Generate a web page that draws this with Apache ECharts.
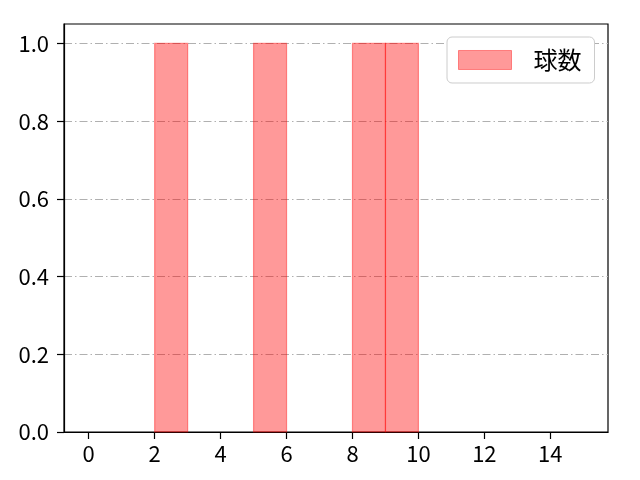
<!DOCTYPE html>
<html>
<head>
<meta charset="utf-8">
<script src="https://cdn.jsdelivr.net/npm/echarts@6/dist/echarts.min.js"></script>
<style>html,body{margin:0;padding:0;background:#fff}#c{width:640px;height:480px}</style>
</head>
<body>
<div id="c"></div>
<script>
const seriesName = '球数';
const binStarts = [2, 5, 8, 9];
const binEnds = [3, 6, 9, 10];
const counts = [1, 1, 1, 1];
const xTicks = [0, 2, 4, 6, 8, 10, 12, 14];
const yTicks = [0, 0.2, 0.4, 0.6, 0.8, 1.0];

const FONT = '"Noto Sans CJK JP", "Noto Sans", sans-serif';
const fill = 'rgba(255,0,0,0.4)';
const edge = 'rgba(255,0,0,0.4)';

const data = binStarts.map((s, i) => [s, binEnds[i], counts[i]]);

const chart = echarts.init(document.getElementById('c'), null, {renderer: 'canvas'});
chart.setOption({
  animation: false,
  backgroundColor: '#fff',
  grid: {left: 64, right: 32, top: 24, bottom: 48, show: true, borderColor: '#000', borderWidth: 1.2, backgroundColor: 'transparent'},
  legend: {
    show: true,
    left: 447, top: 37,
    padding: [11, 13, 11, 11],
    itemWidth: 53, itemHeight: 19, itemGap: 10,
    backgroundColor: '#fff',
    borderColor: '#cccccc', borderWidth: 1, borderRadius: 5,
    textStyle: {fontFamily: FONT, fontSize: 24, color: '#000', padding: [0, 0, 0, 17]},
    data: [{name: seriesName, icon: 'rect', itemStyle: {color: fill, borderColor: edge, borderWidth: 1}}]
  },
  xAxis: {
    type: 'value', min: -0.75, max: 15.75,
    axisLine: {show: true, onZero: false, lineStyle: {color: '#000', width: 1.2}},
    axisTick: {show: true, length: 7, lineStyle: {color: '#000', width: 1.2}, customValues: xTicks},
    axisLabel: {fontFamily: FONT, fontSize: 22, color: '#000', margin: 11, customValues: xTicks},
    splitLine: {show: false}
  },
  yAxis: {
    type: 'value', min: 0, max: 1.05,
    axisLine: {show: true, onZero: false, lineStyle: {color: '#000', width: 1.2}},
    axisTick: {show: true, length: 7, lineStyle: {color: '#000', width: 1.2}, customValues: yTicks},
    axisLabel: {fontFamily: FONT, fontSize: 22, color: '#000', margin: 15, customValues: yTicks,
      formatter: v => v.toFixed(1)},
    splitLine: {show: true, lineStyle: {color: '#b0b0b0', width: 1, type: [8, 3, 1.5, 3]}}
  },
  series: [{
    name: seriesName,
    type: 'custom',
    data: data,
    encode: {x: [0, 1], y: 2},
    itemStyle: {color: fill, borderColor: edge},
    renderItem: function (params, api) {
      const p0 = api.coord([api.value(0), 0]);
      const p1 = api.coord([api.value(1), api.value(2)]);
      return {
        type: 'rect',
        shape: {x: p0[0], y: p1[1], width: p1[0] - p0[0], height: p0[1] - p1[1]},
        style: {fill: fill, stroke: edge, lineWidth: 1.2}
      };
    }
  }]
});
</script>
</body>
</html>
